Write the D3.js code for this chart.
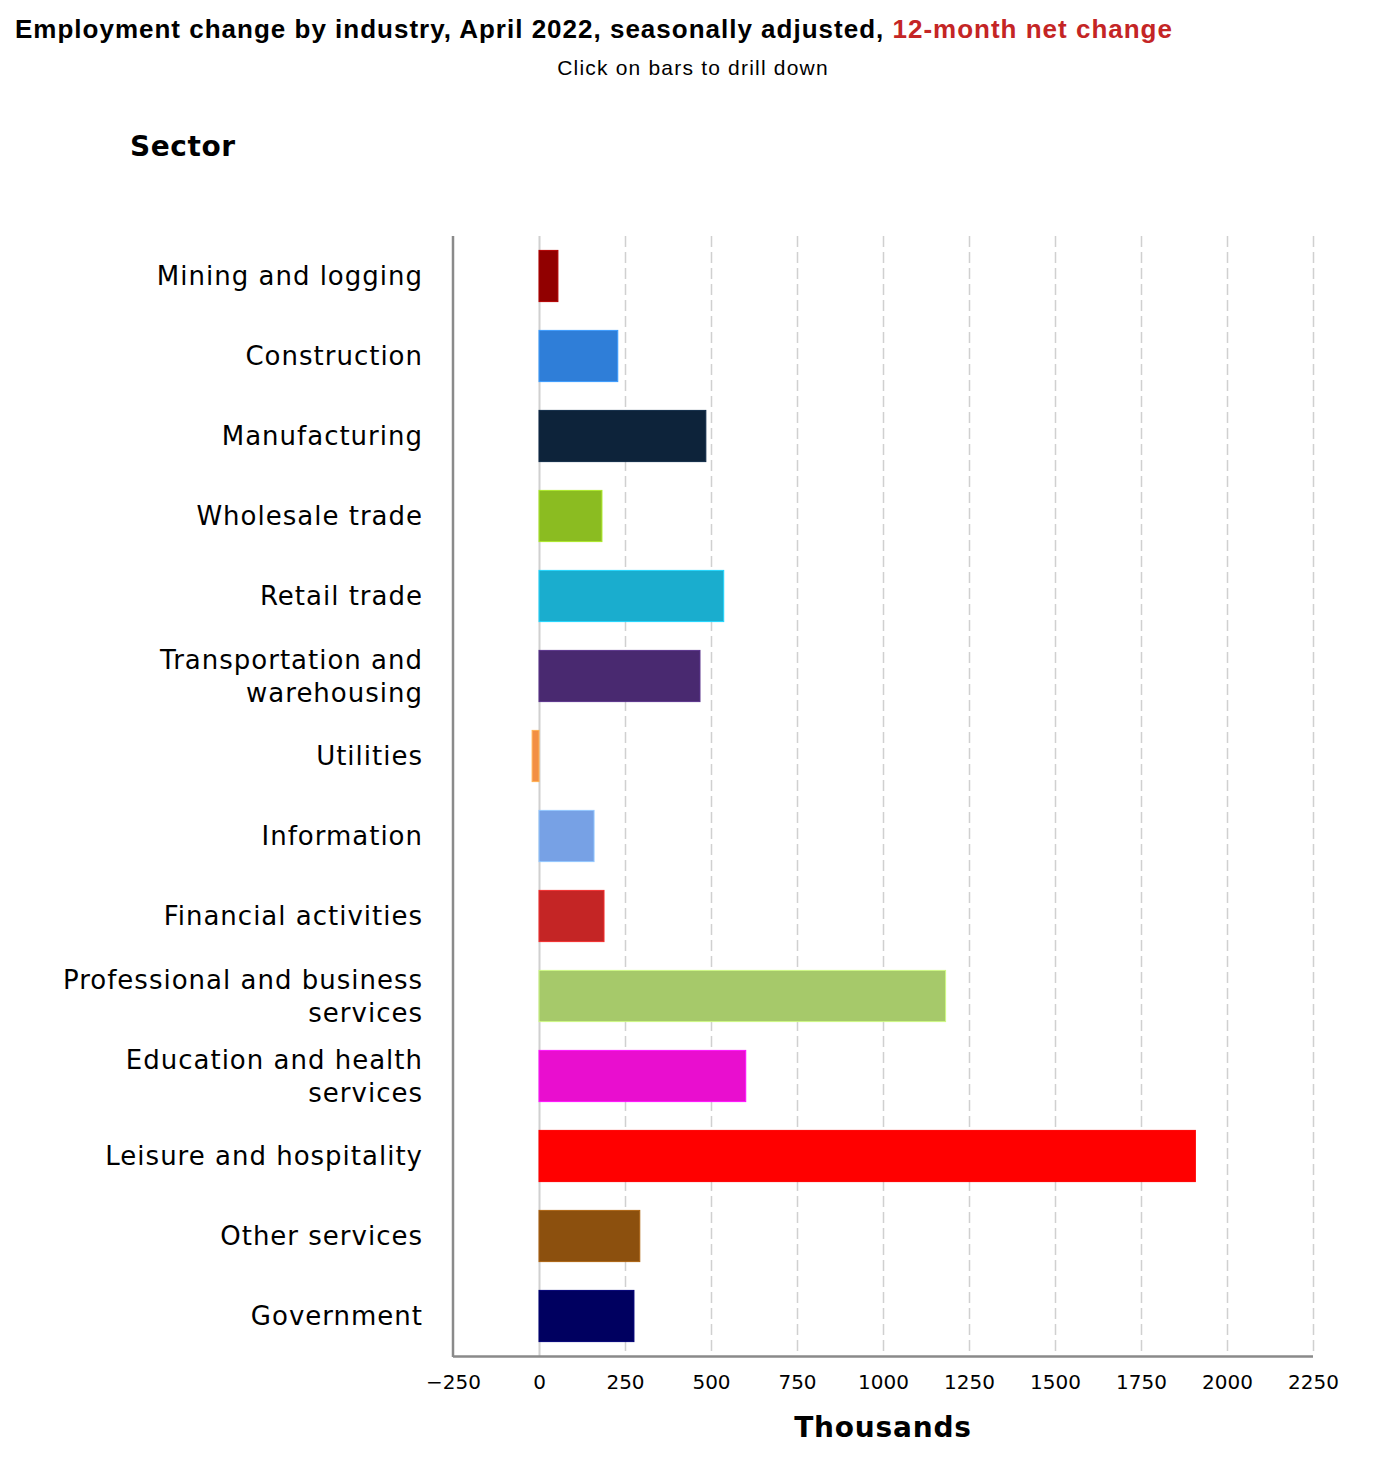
<!DOCTYPE html>
<html>
<head>
<meta charset="utf-8">
<script src="https://cdn.jsdelivr.net/npm/d3@7"></script>
<style>
  body { margin: 0; background: #fff; }
  svg { display: block; }
</style>
</head>
<body>
<div id="chart"></div>
<script>
// sectors, top to bottom
let sectors = [
    'Mining and logging',
    'Construction',
    'Manufacturing',
    'Wholesale trade',
    'Retail trade',
    'Transportation and warehousing',
    'Utilities',
    'Information',
    'Financial activities',
    'Professional and business services',
    'Education and health services',
    'Leisure and hospitality',
    'Other services',
    'Government'
]

// 12-month net change, thousands
let netChange = [55, 229, 485, 183, 537, 468, -20, 160, 189, 1182, 601, 1908, 293, 276]

let barColors = [
    '#910000', '#2f7ed8', '#0d233a', '#8bbc21', '#1aadce', '#492970', '#f28f43',
    '#77a1e5', '#c42525', '#a6c96a', '#e90ecf', '#ff0000', '#8c500e', '#000060'
]

let xTicks = [-250, 0, 250, 500, 750, 1000, 1250, 1500, 1750, 2000, 2250]

let svgWidth = 1386,
    svgHeight = 1462

let plot = { left: 453, right: 1313, top: 236, bottom: 1356 }

let data = sectors.map((s, i) => ({ sector: s, value: netChange[i], color: barColors[i] }))

let svg = d3.select('#chart')
    .append('svg')
    .attr('width', svgWidth)
    .attr('height', svgHeight)

let x = d3.scaleLinear()
    .domain([-250, 2250])
    .range([plot.left, plot.right])

let y = d3.scaleBand()
    .domain(sectors)
    .range([plot.top, plot.bottom])
    .paddingInner(0.36)
    .paddingOuter(0.18)

// title, left part black and the tail in red
let title = svg.append('text')
    .attr('x', 15)
    .attr('y', 38)
    .attr('font-family', '"Liberation Sans", Arial, sans-serif')
    .attr('font-weight', 'bold')
    .attr('font-size', '26px')
    .attr('letter-spacing', '1px')

title.append('tspan')
    .attr('fill', '#000')
    .text('Employment change by industry, April 2022, seasonally adjusted, ')

title.append('tspan')
    .attr('fill', '#c42525')
    .text('12-month net change')

svg.append('text')
    .attr('x', 693)
    .attr('y', 75)
    .attr('text-anchor', 'middle')
    .attr('font-family', '"Liberation Sans", Arial, sans-serif')
    .attr('font-size', '21px')
    .attr('letter-spacing', '1.2px')
    .text('Click on bars to drill down')

svg.append('text')
    .attr('x', 130)
    .attr('y', 156)
    .attr('font-family', '"DejaVu Sans", sans-serif')
    .attr('font-weight', 'bold')
    .attr('font-size', '28px')
    .attr('letter-spacing', '0.6px')
    .text('Sector')

// grid lines, zero line solid and the rest dashed
svg.append('g')
    .attr('class', 'grid')
    .selectAll('line')
    .data(xTicks.filter(d => d !== -250))
    .enter().append('line')
    .attr('x1', d => Math.round(x(d)) + 0.5)
    .attr('x2', d => Math.round(x(d)) + 0.5)
    .attr('y1', plot.top)
    .attr('y2', plot.bottom)
    .attr('stroke', '#d0d0d0')
    .attr('stroke-width', d => d === 0 ? 2 : 1.5)
    .attr('stroke-dasharray', d => d === 0 ? null : '11,5')

// bars
svg.selectAll('.bar')
    .data(data)
    .enter().append('rect')
    .attr('class', 'bar')
    .attr('x', d => x(Math.min(0, d.value)))
    .attr('y', d => y(d.sector))
    .attr('width', d => Math.abs(x(d.value) - x(0)))
    .attr('height', y.bandwidth())
    .attr('fill', d => d.color)
    .attr('stroke', d => d3.color(d.color).brighter(0.6))
    .attr('stroke-width', 1)

// x axis
let xAxis = svg.append('g')
    .attr('transform', `translate(0,${plot.bottom})`)
    .call(d3.axisBottom(x).tickValues(xTicks).tickFormat(d3.format('d')).tickSize(0).tickPadding(19))

xAxis.select('.domain')
    .attr('stroke', '#8a8a8a')
    .attr('stroke-width', 2.5)
    .attr('d', `M${plot.left},0.5H${plot.right}`)

xAxis.selectAll('text')
    .attr('font-family', '"DejaVu Sans", sans-serif')
    .attr('font-size', '20px')
    .attr('fill', '#000')

// y axis line
svg.append('line')
    .attr('x1', plot.left)
    .attr('x2', plot.left)
    .attr('y1', plot.top)
    .attr('y2', plot.bottom + 1)
    .attr('stroke', '#8a8a8a')
    .attr('stroke-width', 2.5)

// y labels, wrapped to fit
let labelX = 423,
    lineHeight = 33,
    maxLabelWidth = 380

let labels = svg.append('g')
    .attr('font-family', '"DejaVu Sans", sans-serif')
    .attr('font-size', '26px')
    .attr('letter-spacing', '1px')
    .attr('fill', '#000')
    .attr('text-anchor', 'end')

labels.selectAll('text')
    .data(sectors)
    .enter().append('text')
    .each(function(s) {
        let el = d3.select(this)
        let words = s.split(' ')
        let lines = []
        let line = []
        let probe = el.append('tspan')
        words.forEach(w => {
            line.push(w)
            probe.text(line.join(' '))
            if (probe.node().getComputedTextLength() > maxLabelWidth && line.length > 1) {
                line.pop()
                lines.push(line.join(' '))
                line = [w]
            }
        })
        lines.push(line.join(' '))
        probe.remove()

        let cy = y(s) + y.bandwidth() / 2
        lines.forEach((t, i) => {
            el.append('tspan')
                .attr('x', labelX)
                .attr('y', cy + (i - (lines.length - 1) / 2) * lineHeight)
                .attr('dy', '0.35em')
                .text(t)
        })
    })

svg.append('text')
    .attr('x', (plot.left + plot.right) / 2)
    .attr('y', 1437)
    .attr('text-anchor', 'middle')
    .attr('font-family', '"DejaVu Sans", sans-serif')
    .attr('font-weight', 'bold')
    .attr('font-size', '28px')
    .attr('letter-spacing', '0.8px')
    .text('Thousands')
</script>
</body>
</html>
